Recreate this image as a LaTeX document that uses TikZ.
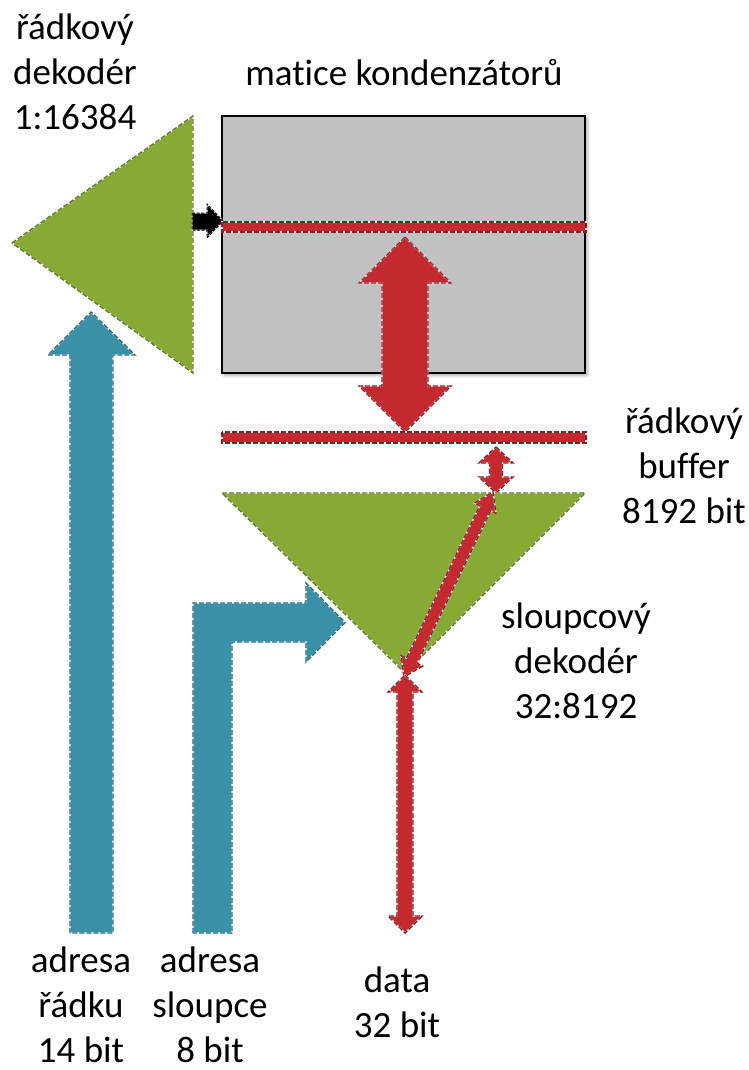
\documentclass[tikz,border=0pt]{standalone}
\usepackage{fontspec}
\setmainfont{Carlito}[Ligatures=NoCommon]
\usetikzlibrary{calc,shadows.blur}

\definecolor{leaf}{HTML}{87A935}
\definecolor{leafdark}{HTML}{5E7B24}
\definecolor{teal}{HTML}{3A90A7}
\definecolor{tealdark}{HTML}{25697B}
\definecolor{brick}{HTML}{C3292F}
\definecolor{brickdark}{HTML}{8C1C21}
\definecolor{cellgray}{HTML}{C1C1C1}

% double-headed block arrow between two named tips:
% #1 style, #2 tip A, #3 tip B, #4 head length, #5 head half-width, #6 shaft half-width
\newcommand\blockdbl[6]{%
  \coordinate (hbA) at ($(#2)!#4!(#3)$);
  \coordinate (hbB) at ($(#3)!#4!(#2)$);
  \path[#1] (#2)
    -- ($(hbA)!#5!90:(#3)$) -- ($(hbA)!#6!90:(#3)$)
    -- ($(hbB)!#6!-90:(#2)$) -- ($(hbB)!#5!-90:(#2)$)
    -- (#3)
    -- ($(hbB)!#5!90:(#2)$) -- ($(hbB)!#6!90:(#2)$)
    -- ($(hbA)!#6!-90:(#3)$) -- ($(hbA)!#5!-90:(#3)$)
    -- cycle;
}

\begin{document}
\begin{tikzpicture}[x=1pt,y=-1pt,
  shape outline/.style={draw=white, line width=1.4pt, line join=miter,
    postaction={draw=#1, line width=1.4pt, dash pattern=on 5pt off 2pt}},
  greenblock/.style={fill=leaf, shape outline=leafdark},
  blueblock/.style={fill=teal, shape outline=tealdark},
  redblock/.style={fill=brick, shape outline=brickdark},
  blackblock/.style={fill=black, draw=white, line width=1pt,
    postaction={draw=black, line width=1pt, dash pattern=on 3pt off 1.5pt}},
  lbl/.style={font=\fontsize{37}{45}\selectfont, align=center, inner sep=0pt, anchor=north}]

\useasboundingbox (0,0) rectangle (749,1070);

% labels
\node[lbl] (rowdec) at (75,7.5) {\strut řádkový\\\strut dekodér\\\strut 1:16384};
\node[lbl] (matrixlbl) at (404,53.5) {\strut matice kondenzátorů};
\node[lbl] (bufferlbl) at (684,401.5) {\strut řádkový\\\strut buffer\\\strut 8192 bit};
\node[lbl] (coldec) at (576,596.5) {\strut sloupcový\\\strut dekodér\\\strut 32:8192};
\node[lbl] (rowaddr) at (81,941) {\strut adresa\\\strut řádku\\14 bit};
\node[lbl] (coladdr) at (210,941) {\strut adresa\\\strut sloupce\\8 bit};
\node[lbl] (datalbl) at (397,960.5) {\strut data\\\strut 32 bit};

% row decoder
\path[greenblock] (12,243) -- (193,116) -- (193,373) -- cycle;

% capacitor matrix
\path[fill=cellgray, draw=black, line width=1.6pt,
  blur shadow={shadow xshift=2.5pt, shadow yshift=-2.5pt, shadow blur radius=3pt, shadow opacity=35}]
  (222,116) rectangle (585,373);

% selected word line
\path[blackblock] (192,213) -- (207,213) -- (207,204) -- (223,221) -- (207,238)
  -- (207,230) -- (192,230) -- cycle;
\path[redblock] (222,222) rectangle (586,232);

% matrix <-> row buffer
\coordinate (senseTop) at (405,237);
\coordinate (senseBot) at (405,432);
\blockdbl{redblock}{senseTop}{senseBot}{46pt}{46pt}{23pt}

% row buffer
\path[redblock] (222,432) rectangle (586,443);

% row buffer <-> column decoder
\coordinate (bufTop) at (496,447);
\coordinate (bufBot) at (496,493);
\blockdbl{redblock}{bufTop}{bufBot}{16pt}{17pt}{6.5pt}

% column decoder
\path[greenblock] (222,493) -- (585,493) -- (405,673) -- cycle;

% selected column
\coordinate (selLow) at (404,677);
\coordinate (selHigh) at (493,492);
\blockdbl{redblock}{selLow}{selHigh}{18pt}{12pt}{6pt}

% data bus
\coordinate (dataTop) at (405,675);
\coordinate (dataBot) at (405,933);
\blockdbl{redblock}{dataTop}{dataBot}{17pt}{17pt}{8pt}

% row address
\path[blueblock] (70,933) -- (70,355) -- (48,355) -- (91,312) -- (135,355)
  -- (113,355) -- (113,933) -- cycle;

% column address
\path[blueblock] (193,933) -- (193,603) -- (306,603) -- (306,583) -- (345,622.5)
  -- (306,662) -- (306,642) -- (232,642) -- (232,933) -- cycle;

\end{tikzpicture}
\end{document}
